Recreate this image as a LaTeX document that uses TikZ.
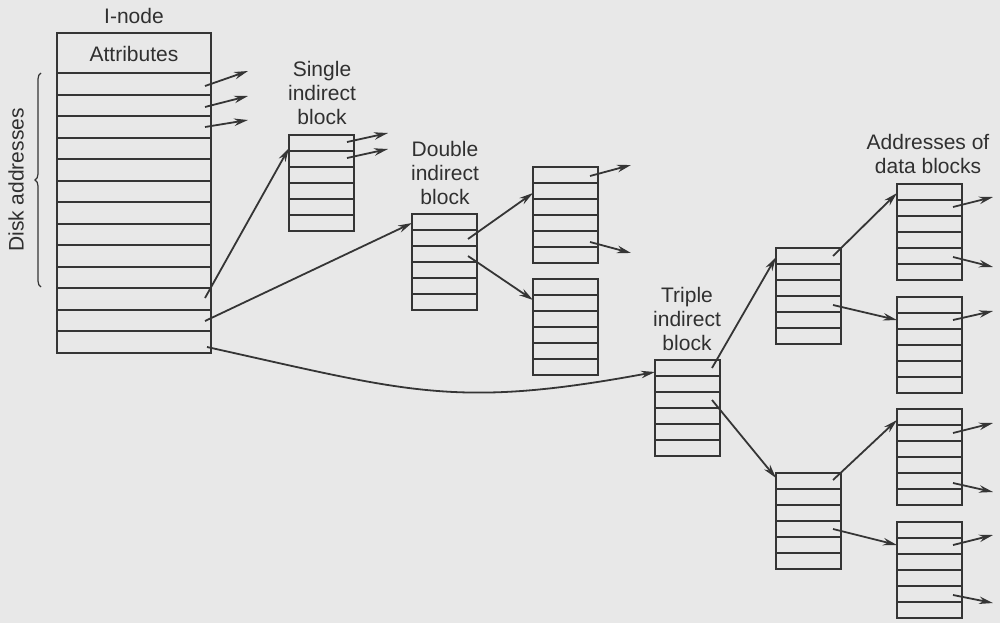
\documentclass[tikz,border=0pt]{standalone}
\usepackage{fontspec}
\setmainfont{Liberation Sans}
\usetikzlibrary{calc,arrows.meta,decorations.pathreplacing}
\definecolor{bg}{HTML}{E8E8E8}
\definecolor{lc}{HTML}{353535}
\definecolor{tc}{HTML}{303030}
\begin{document}
\begin{tikzpicture}[x=1pt,y=-1pt,
  box/.style={draw=lc, line width=2.2pt, inner sep=0pt, outer sep=0pt, anchor=north west, minimum width=65pt, minimum height=96pt},
  rowline/.style={draw=lc, line width=2pt},
  ptr/.style={draw=lc, line width=1.8pt, -{Stealth[length=14pt,width=7.5pt]}},
  lbl/.style={text=tc, font=\fontsize{21}{24}\selectfont, align=center, inner sep=0pt},
]
\fill[bg] (0,0) rectangle (1000,623);
\useasboundingbox (0,0) rectangle (1000,623);

% I-node
\node[box, minimum width=154pt, minimum height=320pt] (inode) at (57,33) {};
\draw[rowline] ($(inode.north west)+(0,40)$) -- ($(inode.north east)+(0,40)$);
\foreach \i [evaluate=\i as \yy using {round(40+\i*21.54)}] in {1,...,12}
  \draw[rowline] ($(inode.north west)+(0,\yy)$) -- ($(inode.north east)+(0,\yy)$);
\node[lbl] (attr) at (134,54) {Attributes};
\node[lbl] (inodelbl) at (134,16) {I-node};
\coordinate (brtop) at (41,73);
\coordinate (brbot) at (41,287);
\draw[lc, line width=1.2pt, decorate, decoration={brace, amplitude=6pt}] (brbot) -- (brtop);
\node[lbl, rotate=90] (disk) at (16,180) {Disk addresses};

% blocks
\foreach \n/\x/\y in {sib/289/135, dib/412/214, dc1/533/167, dc2/533/279, tib/655/360,
                      ma/776/248, mb/776/473, d1/897/184, d2/897/297, d3/897/409, d4/897/522}{
  \node[box] (\n) at (\x,\y) {};
  \foreach \k in {1,...,5}
    \draw[rowline] ($(\n.north west)+(0,16*\k)$) -- ($(\n.north east)+(0,16*\k)$);
}

% labels
\node[lbl] (siblbl) at (322,93) {Single\\indirect\\block};
\node[lbl] (diblbl) at (445,173) {Double\\indirect\\block};
\node[lbl] (tiblbl) at (687,319) {Triple\\indirect\\block};
\node[lbl] (datalbl) at (928,154) {Addresses of\\data blocks};

% direct pointers from i-node
\coordinate (i1) at (205,86);  \coordinate (e1) at (248,71);
\coordinate (i2) at (205,107); \coordinate (e2) at (248,96);
\coordinate (i3) at (205,127); \coordinate (e3) at (248,120);
\draw[ptr] (i1) -- (e1);
\draw[ptr] (i2) -- (e2);
\draw[ptr] (i3) -- (e3);

% indirect pointers from i-node
\coordinate (is) at (205,298);
\coordinate (id) at (205,321);
\coordinate (it) at (207,347);
\draw[ptr] (is) -- ($(sib.north west)+(0,13)$);
\draw[ptr] (id) -- ($(dib.north west)+(0,9)$);
\draw[ptr] (it) .. controls (410,392) and (455,409) .. ($(tib.north west)+(0,12)$);

% single indirect block
\coordinate (s1) at (347,142); \coordinate (se1) at (388,133);
\coordinate (s2) at (347,158); \coordinate (se2) at (388,149);
\draw[ptr] (s1) -- (se1);
\draw[ptr] (s2) -- (se2);

% double indirect block
\coordinate (db1) at (468,239);
\coordinate (db2) at (468,256);
\draw[ptr] (db1) -- ($(dc1.north west)+(0,26)$);
\draw[ptr] (db2) -- ($(dc2.north west)+(0,21)$);
\coordinate (c1) at (590,176); \coordinate (ce1) at (631,165);
\coordinate (c2) at (590,242); \coordinate (ce2) at (631,253);
\draw[ptr] (c1) -- (ce1);
\draw[ptr] (c2) -- (ce2);

% triple indirect block
\coordinate (tb1) at (712,368);
\coordinate (tb2) at (712,400);
\draw[ptr] (tb1) -- ($(ma.north west)+(0,9)$);
\draw[ptr] (tb2) -- ($(mb.north west)+(0,5)$);
\coordinate (ma1) at (833,256);
\coordinate (ma2) at (833,305);
\draw[ptr] (ma1) -- ($(d1.north west)+(0,9)$);
\draw[ptr] (ma2) -- ($(d2.north west)+(0,23)$);
\coordinate (mb1) at (833,480);
\coordinate (mb2) at (833,529);
\draw[ptr] (mb1) -- ($(d3.north west)+(0,11)$);
\draw[ptr] (mb2) -- ($(d4.north west)+(0,23)$);

% data address pointers
\coordinate (p1) at (953,207); \coordinate (q1) at (993,197);
\coordinate (p2) at (953,257); \coordinate (q2) at (993,267);
\coordinate (p3) at (953,320); \coordinate (q3) at (993,311);
\coordinate (p4) at (953,433); \coordinate (q4) at (993,423);
\coordinate (p5) at (953,483); \coordinate (q5) at (993,492);
\coordinate (p6) at (953,545); \coordinate (q6) at (993,535);
\coordinate (p7) at (953,595); \coordinate (q7) at (993,603);
\foreach \k in {1,...,7} \draw[ptr] (p\k) -- (q\k);
\end{tikzpicture}
\end{document}
